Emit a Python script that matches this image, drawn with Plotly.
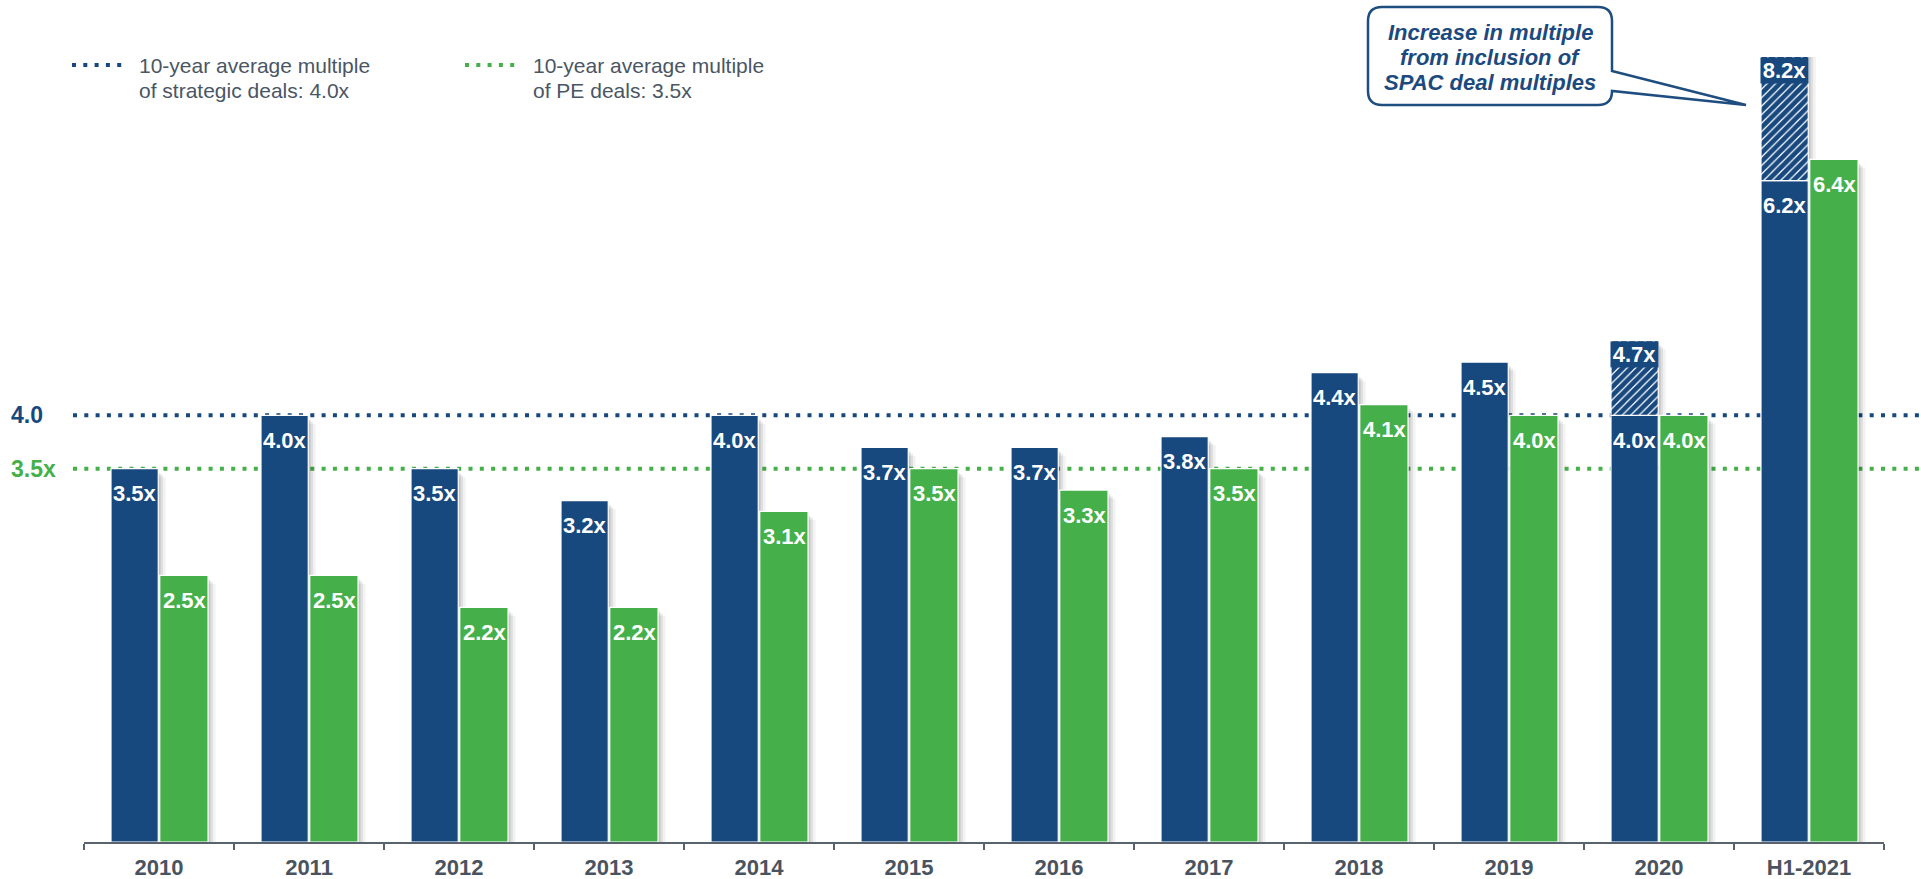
import plotly.graph_objects as go

# ---------------- data ----------------
years = ["2010", "2011", "2012", "2013", "2014", "2015", "2016", "2017",
         "2018", "2019", "2020", "H1-2021"]
strategic = [3.5, 4.0, 3.5, 3.2, 4.0, 3.7, 3.7, 3.8, 4.4, 4.5, 4.0, 6.2]
pe = [2.5, 2.5, 2.2, 2.2, 3.1, 3.5, 3.3, 3.5, 4.1, 4.0, 4.0, 6.4]
spac_years = ["2020", "H1-2021"]
spac_total = [4.7, 8.2]          # strategic multiple incl. SPAC deals
avg_strategic = 4.0
avg_pe = 3.5

# ---------------- style ----------------
NAVY = "#17487E"
GREEN = "#45B04A"
GREY_TXT = "#4A5664"
FONT = "Arial, Liberation Sans, sans-serif"
W, H = 1921, 879
PL, PR, PT, PB = 84, 1884, 57, 842
YMAX = 7.36

def px(x):
    return (x - PL) / (PR - PL)

def py(y):
    return (PB - y) / (PB - PT)

B_OFF, B_W = -0.32, 0.315
G_OFF, G_W = 0.005, 0.322

idx = {y: i for i, y in enumerate(years)}
strat_base = dict(zip(years, strategic))
spac_map = dict(zip(spac_years, spac_total))
spac_inc = [t - strat_base[y] for y, t in zip(spac_years, spac_total)]
spac_base = [strat_base[y] for y in spac_years]
blue_top = [max(v, spac_map.get(y, 0)) for y, v in zip(years, strategic)]

fig = go.Figure()

# soft drop shadows (drawn first, behind bars)
for dx, dy, a in [(0.05, 0.08, 0.05), (0.032, 0.06, 0.08), (0.016, 0.04, 0.11)]:
    fig.add_trace(go.Bar(x=years, y=[v - dy for v in blue_top], offset=B_OFF + dx, width=B_W,
                         marker=dict(color=f"rgba(0,0,0,{a})", line=dict(width=0)),
                         hoverinfo="skip", showlegend=False))
    fig.add_trace(go.Bar(x=years, y=[v - dy for v in pe], offset=G_OFF + dx, width=G_W,
                         marker=dict(color=f"rgba(0,0,0,{a})", line=dict(width=0)),
                         hoverinfo="skip", showlegend=False))

# main bars
fig.add_trace(go.Bar(x=years, y=strategic, offset=B_OFF, width=B_W, name="Strategic",
                     marker=dict(color=NAVY, line=dict(color="white", width=1.2)),
                     showlegend=False))
fig.add_trace(go.Bar(x=years, y=pe, offset=G_OFF, width=G_W, name="PE",
                     marker=dict(color=GREEN, line=dict(color="white", width=1.2)),
                     showlegend=False))
# SPAC increment (hatched)
fig.add_trace(go.Bar(x=spac_years, y=spac_inc, base=spac_base, offset=B_OFF, width=B_W,
                     name="SPAC",
                     marker=dict(color="white", line=dict(color="white", width=1.2),
                                 pattern=dict(shape="/", fgcolor=NAVY, bgcolor="white",
                                              fgopacity=1, size=6, solidity=0.8)),
                     showlegend=False))

annotations = []
lab_font = dict(family=FONT, size=22, color="white", weight="bold")
# value labels (x given as category index)
for y, v in zip(years, strategic):
    annotations.append(dict(x=idx[y], y=v, xref="x", yref="y", xshift=-24.5, yshift=-25,
                            text=f"{v:.1f}x", showarrow=False, yanchor="middle",
                            font=lab_font))
for y, v in zip(years, pe):
    annotations.append(dict(x=idx[y], y=v, xref="x", yref="y", xshift=25.5, yshift=-25,
                            text=f"{v:.1f}x", showarrow=False, yanchor="middle",
                            font=lab_font))
for y, t in zip(spac_years, spac_total):
    annotations.append(dict(x=idx[y], y=min(t, YMAX), xref="x", yref="y", xshift=-24.5,
                            text=f"{t:.1f}x", showarrow=False, yanchor="top",
                            bgcolor=NAVY, width=45, height=23, borderpad=1,
                            font=lab_font))

# left average labels
annotations.append(dict(x=px(9), y=avg_strategic, xref="paper", yref="y", xanchor="left",
                        yanchor="middle", text=f"{avg_strategic:.1f}", showarrow=False,
                        font=dict(family=FONT, size=23, color=NAVY, weight="bold")))
annotations.append(dict(x=px(9), y=avg_pe, xref="paper", yref="y", xanchor="left",
                        yanchor="middle", text=f"{avg_pe:.1f}x", showarrow=False,
                        font=dict(family=FONT, size=23, color=GREEN, weight="bold")))

# legend texts
leg = [(137, ["10-year average multiple", f"of strategic deals: {avg_strategic:.1f}x"]),
       (531, ["10-year average multiple", f"of PE deals: {avg_pe:.1f}x"])]
for x0, lines in leg:
    for i, t in enumerate(lines):
        annotations.append(dict(x=px(x0), y=py(65 + 25 * i), xref="paper", yref="paper",
                                xanchor="left", yanchor="middle", text=t, showarrow=False,
                                font=dict(family=FONT, size=21, color=GREY_TXT)))

# callout text
for i, t in enumerate(["Increase in multiple", "from inclusion of", "SPAC deal multiples"]):
    annotations.append(dict(x=px(1490), y=py(32 + 25 * i), xref="paper", yref="paper",
                            xanchor="center", yanchor="middle", text=t, showarrow=False,
                            font=dict(family=FONT, size=22, color="#1C4A7E",
                                      weight="bold", style="italic")))

shapes = []
# average dotted lines
for val, col in [(avg_strategic, NAVY), (avg_pe, GREEN)]:
    shapes.append(dict(type="line", xref="paper", yref="y", x0=px(73), x1=px(1921),
                       y0=val, y1=val, layer="below",
                       line=dict(color=col, width=4, dash="4px,7.3px")))
# legend samples
for (xa, xb), col in [((72, 124), NAVY), ((465, 519), GREEN)]:
    shapes.append(dict(type="line", xref="paper", yref="paper", x0=px(xa), x1=px(xb),
                       y0=py(65), y1=py(65),
                       line=dict(color=col, width=4, dash="4px,7.3px")))

# callout bubble
x0, x1, y0, y1, r = 1368, 1612, 7, 105, 14
tip = (1746, 105)

def P(x, y):
    return f"{px(x):.5f},{py(y):.5f}"

path = (f"M {P(x0 + r, y0)} L {P(x1 - r, y0)} Q {P(x1, y0)} {P(x1, y0 + r)} "
        f"L {P(x1, 71)} L {P(*tip)} L {P(x1, y1 - r)} "
        f"Q {P(x1, y1)} {P(x1 - r, y1)} L {P(x0 + r, y1)} Q {P(x0, y1)} {P(x0, y1 - r)} "
        f"L {P(x0, y0 + r)} Q {P(x0, y0)} {P(x0 + r, y0)} Z")
shapes.append(dict(type="path", xref="paper", yref="paper", path=path,
                   fillcolor="white", line=dict(color="#1E4D80", width=2.5)))

fig.update_layout(
    width=W, height=H,
    margin=dict(l=PL, r=W - PR, t=PT, b=H - PB, pad=0, autoexpand=False),
    paper_bgcolor="white", plot_bgcolor="white",
    barmode="overlay",
    showlegend=False,
    annotations=annotations,
    shapes=shapes,
    xaxis=dict(type="category", categoryorder="array", categoryarray=years,
               range=[-0.5, len(years) - 0.5], autorange=False, automargin=False,
               showline=True, linecolor="#59636E", linewidth=2,
               ticks="outside", tickson="boundaries", ticklen=6, tickwidth=2,
               tickcolor="#59636E", showgrid=False, zeroline=False,
               ticklabelstandoff=5, tickangle=0,
               tickfont=dict(family=FONT, size=22, color="#4A5460", weight="bold"),
               fixedrange=True),
    yaxis=dict(visible=False, range=[0, YMAX], autorange=False, automargin=False,
               fixedrange=True),
)

fig.write_html("out.html")
